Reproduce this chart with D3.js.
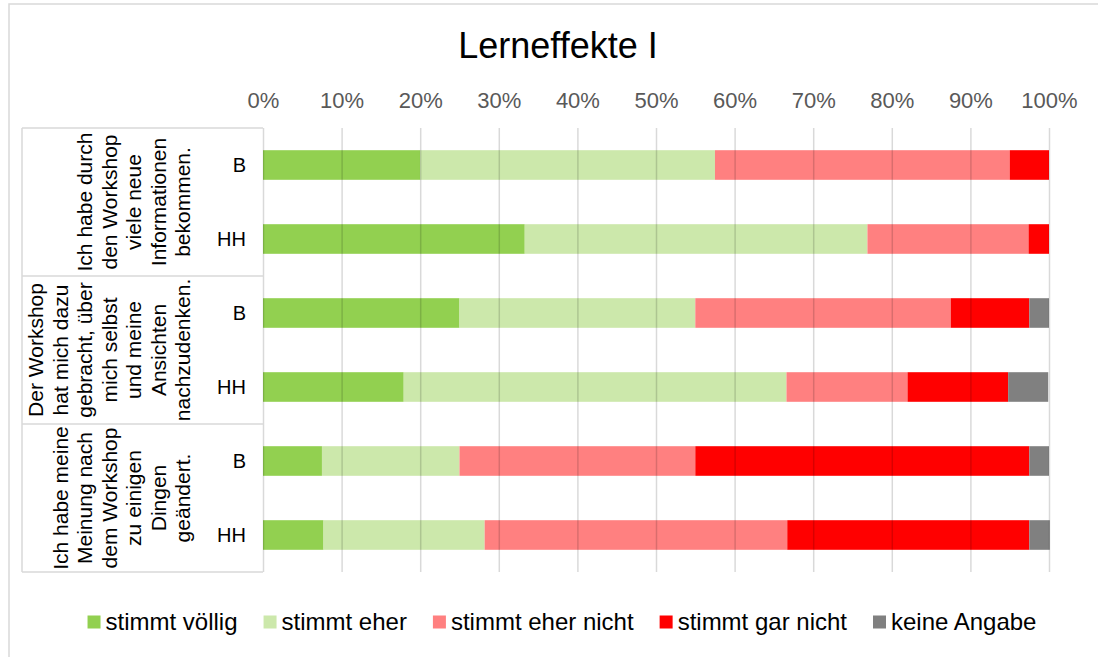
<!DOCTYPE html>
<html><head><meta charset="utf-8">
<script src="https://cdn.jsdelivr.net/npm/d3@7"></script>
<style>body{margin:0;background:#fff;} svg{display:block;font-family:"Liberation Sans",Arial,sans-serif;}</style>
</head><body>
<svg id="c" width="1098" height="657"></svg>
<script>
const title = "Lerneffekte I";
const questions = [
  ["Ich habe durch","den Workshop","viele neue","Informationen","bekommen."],
  ["Der Workshop","hat mich dazu","gebracht, über","mich selbst","und meine","Ansichten","nachzudenken."],
  ["Ich habe meine","Meinung nach","dem Workshop","zu einigen","Dingen","geändert."]
];
const groups = ["B","HH"];
const seriesNames = ["stimmt völlig","stimmt eher","stimmt eher nicht","stimmt gar nicht","keine Angabe"];
const seriesColors = ["#92d050","#cce8ab","#ff8080","#ff0000","#808080"];
// rows: Q1-B, Q1-HH, Q2-B, Q2-HH, Q3-B, Q3-HH
const stimmtVoellig   = [20, 33.3, 25, 17.9, 7.5, 7.7];
const stimmtEher      = [37.5, 43.6, 30, 48.7, 17.5, 20.5];
const stimmtEherNicht = [37.5, 20.5, 32.5, 15.4, 30, 38.5];
const stimmtGarNicht  = [5, 2.6, 10, 12.8, 42.5, 30.8];
const keineAngabe     = [0, 0, 2.5, 5.1, 2.5, 2.6];
const tickValues = [0,10,20,30,40,50,60,70,80,90,100];

const seriesVals = [stimmtVoellig, stimmtEher, stimmtEherNicht, stimmtGarNicht, keineAngabe];
const rows = [];
questions.forEach((q,qi)=>groups.forEach((g,gi)=>rows.push({id:qi+"-"+g, q:qi, g:g, i:rows.length})));

const svg = d3.select("#c");
const pLeft = 263, pRight = 1049, pTop = 128, pBottom = 572;
const x = d3.scaleLinear().domain([0,100]).range([pLeft,pRight]);
const y = d3.scaleBand().domain(rows.map(r=>r.id)).range([pTop,pBottom]).paddingInner(0.6).paddingOuter(0.3);

// frame
svg.append("rect").attr("x",9).attr("y",4).attr("width",1100).attr("height",670)
  .attr("fill","none").attr("stroke","#d9d9d9").attr("stroke-width",1.5);

svg.append("text").attr("x",558).attr("y",58).attr("text-anchor","middle")
  .attr("font-size",36).attr("fill","#000").text(title);

// stacked bars
const stackData = rows.map((r,i)=>{const o={id:r.id}; seriesNames.forEach((s,si)=>o[s]=seriesVals[si][i]); return o;});
const stacked = d3.stack().keys(seriesNames)(stackData);
svg.append("g").selectAll("g").data(stacked).join("g")
  .attr("fill",(d,i)=>seriesColors[i])
  .selectAll("rect").data(d=>d).join("rect")
  .attr("x",d=>x(d[0])).attr("width",d=>Math.max(0,x(d[1])-x(d[0])))
  .attr("y",d=>y(d.data.id)).attr("height",y.bandwidth());

// gridlines (over bars, semi-transparent)
const xAxis = d3.axisTop(x).tickValues(tickValues).tickFormat(d=>d+"%").tickSize(-(pBottom-pTop)).tickPadding(20);
const ax = svg.append("g").attr("transform",`translate(0,${pTop})`).call(xAxis);
ax.select(".domain").remove();
ax.selectAll(".tick line").attr("stroke","rgba(0,0,0,0.15)").attr("stroke-width",1.5);
ax.selectAll(".tick text").attr("font-size",22).attr("fill","#595959")
  .attr("font-family","'Liberation Sans',Arial,sans-serif").attr("y",-20);

// category box
const boxG = svg.append("g").attr("stroke","#d9d9d9").attr("stroke-width",1.5);
boxG.append("line").attr("x1",22).attr("x2",22).attr("y1",pTop).attr("y2",pBottom);
const qEdges = [0,2,4,6].map(k=> k<6 ? y(rows[k].id) - y.step()*0.3 : pBottom);
qEdges.forEach(yy=>boxG.append("line").attr("x1",22).attr("x2",pLeft).attr("y1",yy).attr("y2",yy));

// group labels
svg.append("g").selectAll("text").data(rows).join("text")
  .attr("x",246).attr("y",r=>y(r.id)+y.bandwidth()/2).attr("dy","0.35em")
  .attr("text-anchor","end").attr("font-size",20).attr("fill","#000").text(r=>r.g);

// question labels rotated
questions.forEach((lines,qi)=>{
  const cy = (qEdges[qi]+qEdges[qi+1])/2;
  const n = lines.length;
  lines.forEach((ln,li)=>{
    const bx = 190 - (n-1-li)*24.5;
    svg.append("text").attr("transform",`translate(${bx},${cy}) rotate(-90)`)
      .attr("text-anchor","middle").attr("font-size",21).attr("fill","#000").text(ln);
  });
});

// legend
const lg = svg.append("g");
let cx = 0;
const gap = 26;
const items = [];
seriesNames.forEach((s,i)=>{
  const g = lg.append("g");
  g.append("rect").attr("x",0).attr("y",-6.5).attr("width",13).attr("height",13).attr("fill",seriesColors[i]);
  const t = g.append("text").attr("x",18).attr("y",0).attr("dy","0.35em").attr("font-size",24).attr("fill","#000").text(s);
  const w = 18 + t.node().getComputedTextLength();
  items.push({g,x:cx}); cx += w + gap;
});
const total = cx - gap;
const start = 562 - total/2;
items.forEach(it=>it.g.attr("transform",`translate(${start+it.x},622)`));
</script>
</body></html>
